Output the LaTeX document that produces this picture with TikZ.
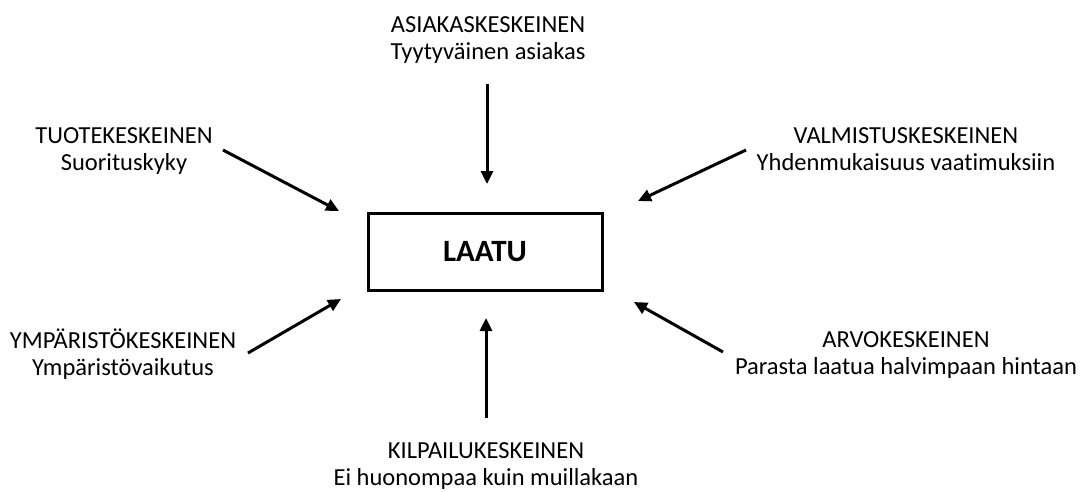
\documentclass[tikz,border=0pt]{standalone}
\usepackage{fontspec}
\setmainfont{Carlito}[Ligatures=NoCommon]
\usetikzlibrary{arrows.meta}
\newcommand\mystrutA{\rule{0pt}{24pt}}
\newcommand\mystrutB{\rule[-8pt]{0pt}{8pt}}
\begin{document}
\begin{tikzpicture}[x=1pt,y=-1pt,
  lbl/.style={align=center,inner sep=0pt,font=\fontsize{24.5}{27}\selectfont},
  arr/.style={line width=3pt,-{Triangle[length=13pt,width=12pt]}},
  mainbox/.style={draw,line width=3pt,minimum width=234pt,minimum height=77pt,inner sep=0pt,font=\fontsize{31}{36}\selectfont\bfseries}]
\useasboundingbox (0,0) rectangle (1087,491);
\node[mainbox] (laatu) at (485,251.5) {LAATU};
\node[lbl] (asia) at (488,37.5) {\mystrutA ASIAKASKESKEINEN\\Tyytyväinen asiakas\mystrutB};
\node[lbl] (tuote) at (124,148.5) {\mystrutA TUOTEKESKEINEN\\Suorituskyky\mystrutB};
\node[lbl] (valm) at (906,148.5) {\mystrutA VALMISTUSKESKEINEN\\Yhdenmukaisuus vaatimuksiin\mystrutB};
\node[lbl] (ymp) at (123,353.5) {\mystrutA YMPÄRISTÖKESKEINEN\\Ympäristövaikutus\mystrutB};
\node[lbl] (arvo) at (906,352.5) {\mystrutA ARVOKESKEINEN\\Parasta laatua halvimpaan hintaan\mystrutB};
\node[lbl] (kilp) at (486,463.5) {\mystrutA KILPAILUKESKEINEN\\Ei huonompaa kuin muillakaan\mystrutB};
\coordinate (a1s) at (487,84);  \coordinate (a1e) at (487,184);
\coordinate (a2s) at (223,150); \coordinate (a2e) at (339,211);
\coordinate (a3s) at (746,150); \coordinate (a3e) at (638,201);
\coordinate (a4s) at (248,353); \coordinate (a4e) at (341,299);
\coordinate (a5s) at (723,352); \coordinate (a5e) at (634,302);
\coordinate (a6s) at (486,418); \coordinate (a6e) at (486,318);
\draw[arr] (a1s) -- (a1e);
\draw[arr] (a2s) -- (a2e);
\draw[arr] (a3s) -- (a3e);
\draw[arr] (a4s) -- (a4e);
\draw[arr] (a5s) -- (a5e);
\draw[arr] (a6s) -- (a6e);
\end{tikzpicture}
\end{document}
